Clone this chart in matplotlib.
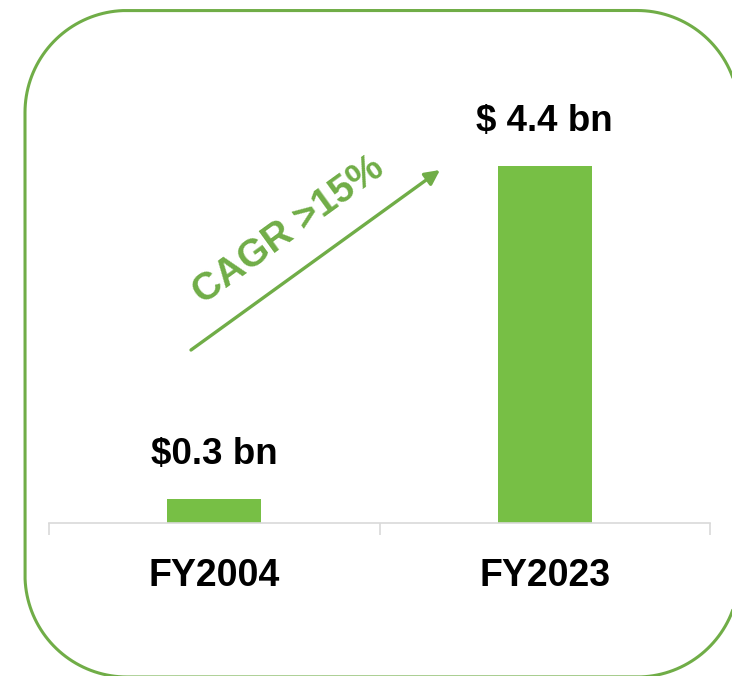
import matplotlib
matplotlib.use("Agg")
import numpy as np
import matplotlib.pyplot as plt
from matplotlib.path import Path
from matplotlib.patches import PathPatch

categories = ["FY2004", "FY2023"]
values = [0.3, 4.4]
value_labels = ["$0.3 bn", "$ 4.4 bn"]
cagr_text = "CAGR >15%"

W, H = 732, 676
DPI = 100
bar_color = "#77BF45"
green = "#70AD47"
axis_gray = "#D9D9D9"

plt.rcParams['font.family'] = ['Liberation Sans', 'DejaVu Sans']

fig = plt.figure(figsize=(W / DPI, H / DPI), dpi=DPI)

# main chart axes
ax = fig.add_axes([49 / W, (H - 523) / H, 661 / W, 446 / H])
x = list(range(len(categories)))
ax.bar(x, values, width=0.285, color=bar_color, zorder=2)
ax.set_xlim(-0.5, len(categories) - 0.5)
ax.set_ylim(0, 5.5)
for s in ["top", "right", "left"]:
    ax.spines[s].set_visible(False)
ax.spines["bottom"].set_color(axis_gray)
ax.spines["bottom"].set_linewidth(1.2)
ax.set_yticks([])
ax.set_xticks(x)
ax.set_xticklabels(categories, fontsize=27, fontweight="bold")
ax.tick_params(axis="x", which="major", length=0, pad=25)
ax.set_xticks([i - 0.5 for i in range(len(categories) + 1)], minor=True)
ax.tick_params(axis="x", which="minor", length=8.6, width=1.2, color=axis_gray)
ax.patch.set_visible(False)

for xi, v, lab in zip(x, values, value_labels):
    ax.annotate(lab, xy=(xi, v), xytext=(0, 25), textcoords="offset points",
                ha="center", va="baseline", fontsize=26.5, fontweight="bold", color="black")

# overlay in pixel coordinates (y up) for the frame and the CAGR arrow
ov = fig.add_axes([0, 0, 1, 1])
ov.set_xlim(0, W)
ov.set_ylim(0, H)
ov.axis("off")
ov.patch.set_visible(False)

# rounded frame
x0, x1 = 25, 739
y_top, y_bot = H - 10.5, H - 677
R = 102
verts = []
def arc(cx, cy, a0, a1):
    t = np.radians(np.linspace(a0, a1, 40))
    return list(zip(cx + R * np.cos(t), cy + R * np.sin(t)))
verts += arc(x1 - R, y_top - R, 0, 90)
verts += arc(x0 + R, y_top - R, 90, 180)
verts += arc(x0 + R, y_bot + R, 180, 270)
verts += arc(x1 - R, y_bot + R, 270, 360)
verts.append(verts[0])
frame = PathPatch(Path(verts), fill=False, edgecolor=green, linewidth=2.2, clip_on=False)
ov.add_patch(frame)

ov.annotate("", xy=(440, H - 170), xytext=(191, H - 350),
            arrowprops=dict(arrowstyle="-|>", lw=2.4, color=green, mutation_scale=22,
                            shrinkA=0, shrinkB=0))
ov.text(289, H - 231, cagr_text, rotation=35.9, rotation_mode="anchor",
        ha="center", va="center", fontsize=28, fontweight="bold", color=green)

fig.savefig("out.png", dpi=DPI)
